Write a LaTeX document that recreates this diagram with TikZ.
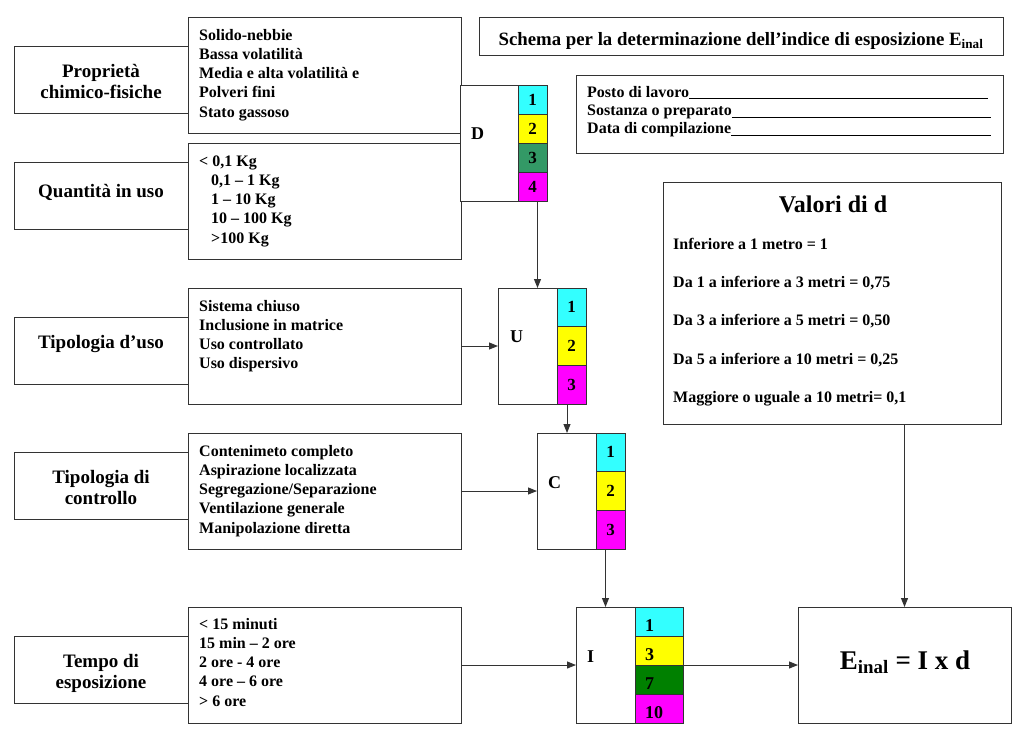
\documentclass[tikz,border=0pt]{standalone}
\usepackage{fontspec}
\setmainfont{Liberation Serif}
\usetikzlibrary{arrows.meta,calc}
\newcommand\fsz[2]{\fontsize{#1}{#2}\selectfont\bfseries}
\newcommand\mlines[2]{\begin{tabular}[t]{@{}#1@{}}#2\end{tabular}}
\newcommand\uline{\leaders\hrule height -1.4pt depth 2.4pt\hfill\kern0pt}
\definecolor{cyn}{HTML}{33FFFF}
\definecolor{ylw}{HTML}{FFFF00}
\definecolor{sgr}{HTML}{339966}
\definecolor{dgr}{HTML}{008000}
\definecolor{mgn}{HTML}{FF00FF}
\definecolor{edge}{HTML}{333333}
\begin{document}
\begin{tikzpicture}[x=1pt,y=-1pt,
  bx/.style n args={2}{draw=edge, line width=1pt, fill=white, inner sep=0pt, outer sep=0pt, minimum width=#1, minimum height=#2},
  cell/.style={draw=edge, line width=1pt, inner sep=0pt, outer sep=0pt, font=\fsz{17}{20}},
  arr/.style={draw=edge, line width=1pt, -{Triangle[length=9pt,width=7pt]}},
  lst/.style={anchor=base west, inner sep=0pt, font=\fsz{16}{19.3}},
  lbl/.style={anchor=base, inner sep=0pt, font=\fsz{19}{21.5}},
  let/.style={anchor=base west, inner sep=0pt, font=\fsz{18}{20}},
]
\useasboundingbox (0,0) rectangle (1024,745);
\fill[white] (0,0) rectangle (1024,745);

% title and form
\node[bx={524pt}{38pt}] (T) at (741,36) {};
\node[anchor=base, inner sep=0pt, font=\fsz{18.8}{22}] (Tt) at (741,45) {Schema per la determinazione dell’indice di esposizione E\textsubscript{inal}};
\node[bx={427pt}{78pt}] (F) at (789.5,114) {};
\node[lst, font=\fsz{16}{18.3}] (Ft) at (587,97) {\mlines{l}{\makebox[401pt][l]{Posto di lavoro\uline}\\\makebox[404pt][l]{Sostanza o preparato\uline}\\\makebox[404pt][l]{Data di compilazione\uline}}};

% rows 1 and 2 : D
\node[bx={174pt}{67pt}] (Pl) at (101,79.5) {};
\node[lbl] (Plt) at (101,77) {\mlines{c}{Proprietà\\chimico-fisiche}};
\node[bx={273pt}{116pt}] (Pli) at (324.5,75) {};
\node[lst] (Plit) at (199,40) {\mlines{l}{Solido-nebbie\\Bassa volatilità\\Media e alta volatilità e\\Polveri fini\\Stato gassoso}};

\node[bx={174pt}{67pt}] (Ql) at (101,195.5) {};
\node[lbl] (Qlt) at (101,197) {Quantità in uso};
\node[bx={273pt}{116pt}] (Qli) at (324.5,201) {};
\node[lst] (Qlit) at (199,166) {\mlines{l}{< 0,1 Kg\\\hspace{12pt}0,1 – 1 Kg\\\hspace{12pt}1 – 10 Kg\\\hspace{12pt}10 – 100 Kg\\\hspace{12pt}>100 Kg}};

\node[bx={58pt}{116pt}] (Db) at (489,143) {};
\node[let] (Dt) at (471,139) {D};
\node[cell, fill=cyn, minimum width=29pt, minimum height=29pt] (D1) at (532.5,99.5) {1};
\node[cell, fill=ylw, minimum width=29pt, minimum height=29pt] (D2) at (532.5,128.5) {2};
\node[cell, fill=sgr, minimum width=29pt, minimum height=29pt] (D3) at (532.5,157.5) {3};
\node[cell, fill=mgn, minimum width=29pt, minimum height=29pt] (D4) at (532.5,186.5) {4};

% row 3 : U
\node[bx={174pt}{67pt}] (Ul) at (101,350.5) {};
\node[lbl] (Ult) at (101,348) {Tipologia d’uso};
\node[bx={273pt}{116pt}] (Uli) at (324.5,346) {};
\node[lst] (Ulit) at (199,311) {\mlines{l}{Sistema chiuso\\Inclusione in matrice\\Uso controllato\\Uso dispersivo}};
\node[bx={59pt}{116pt}] (Ub) at (527.5,346) {};
\node[let] (Utx) at (510,342) {U};
\node[cell, fill=cyn, minimum width=29pt, minimum height=38.67pt] (U1) at (571.5,307.33) {1};
\node[cell, fill=ylw, minimum width=29pt, minimum height=38.67pt] (U2) at (571.5,346) {2};
\node[cell, fill=mgn, minimum width=29pt, minimum height=38.67pt] (U3) at (571.5,384.67) {3};

% row 4 : C
\node[bx={174pt}{67pt}] (Cl) at (101,485.5) {};
\node[lbl] (Clt) at (101,483) {\mlines{c}{Tipologia di\\controllo}};
\node[bx={273pt}{116pt}] (Cli) at (324.5,491) {};
\node[lst] (Clit) at (199,456) {\mlines{l}{Contenimeto completo\\Aspirazione localizzata\\Segregazione/Separazione\\Ventilazione generale\\Manipolazione diretta}};
\node[bx={59pt}{116pt}] (Cb) at (566.5,491) {};
\node[let] (Ctx) at (548,488) {C};
\node[cell, fill=cyn, minimum width=29pt, minimum height=38.67pt] (C1) at (610.5,452.33) {1};
\node[cell, fill=ylw, minimum width=29pt, minimum height=38.67pt] (C2) at (610.5,491) {2};
\node[cell, fill=mgn, minimum width=29pt, minimum height=38.67pt] (C3) at (610.5,529.67) {3};

% row 5 : I
\node[bx={174pt}{67pt}] (Il) at (101,669.5) {};
\node[lbl] (Ilt) at (101,667) {\mlines{c}{Tempo di\\esposizione}};
\node[bx={273pt}{116pt}] (Ili) at (324.5,665) {};
\node[lst] (Ilit) at (199,629) {\mlines{l}{< 15 minuti\\15 min – 2 ore\\2 ore - 4 ore\\4 ore – 6 ore\\> 6 ore}};
\node[bx={59pt}{116pt}] (Ib) at (605.5,665) {};
\node[let] (Itx) at (587,662) {I};
\node[cell, fill=cyn, minimum width=48pt, minimum height=29pt] (I1) at (659,621.5) {};
\node[cell, fill=ylw, minimum width=48pt, minimum height=29pt] (I2) at (659,650.5) {};
\node[cell, fill=dgr, minimum width=48pt, minimum height=29pt] (I3) at (659,679.5) {};
\node[cell, fill=mgn, minimum width=48pt, minimum height=29pt] (I4) at (659,708.5) {};
\node[let] (I1t) at (645,631) {1};
\node[let] (I2t) at (645,660) {3};
\node[let] (I3t) at (645,689) {7};
\node[let] (I4t) at (645,718) {10};

% Valori di d
\node[bx={338pt}{242pt}] (V) at (832,303) {};
\node[anchor=base, inner sep=0pt, font=\fsz{24}{28}] (Vt) at (833,212.5) {Valori di d};
\node[lst, font=\fsz{16}{38.2}] (Vit) at (673,249.5) {\mlines{l}{Inferiore a 1 metro = 1\\Da 1 a inferiore a 3 metri = 0,75\\Da 3 a inferiore a 5 metri = 0,50\\Da 5 a inferiore a 10 metri = 0,25\\Maggiore o uguale a 10 metri= 0,1}};

% Einal
\node[bx={213pt}{116pt}] (E) at (904.5,665) {};
\node[anchor=base, inner sep=0pt, font=\fsz{27}{32}] (Et) at (905,669) {E\textsubscript{inal} = I x d};

% connectors
\draw[arr] ([xshift=5pt]D4.south) -- ([xshift=5pt]D4.south |- Ub.north);
\draw[arr] (Uli.east) -- (Ub.west);
\draw[arr] ([xshift=-4.5pt]U3.south) -- ([xshift=-4.5pt]U3.south |- Cb.north);
\draw[arr] (Cli.east) -- (Cb.west);
\draw[arr] ([xshift=-5pt]C3.south) -- ([xshift=-5pt]C3.south |- Ib.north);
\draw[arr] (Ili.east) -- (Ib.west);
\draw[arr] (I2.south east) -- (I2.south east -| E.west);
\draw[arr] (E.north |- V.south) -- (E.north);
\end{tikzpicture}
\end{document}
